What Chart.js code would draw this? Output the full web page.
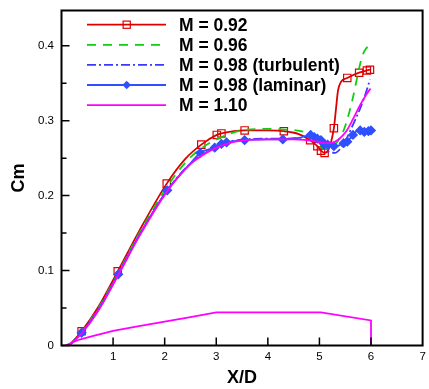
<!DOCTYPE html>
<html><head><meta charset="utf-8">
<script src="https://cdn.jsdelivr.net/npm/chart.js@4.4.1/dist/chart.umd.min.js"></script>
<style>html,body{margin:0;padding:0;background:#fff;}canvas{display:block;}</style>
</head><body>
<canvas id="c" width="429" height="389"></canvas>
<script>
// ---- data ----
const xTicks = [0, 1, 2, 3, 4, 5, 6, 7];
const yTicks = [0, 0.1, 0.2, 0.3, 0.4];
const yMinorTicks = [0.05, 0.15, 0.25, 0.35];
const seriesNames = ['M = 0.92', 'M = 0.96', 'M = 0.98 (turbulent)', 'M = 0.98 (laminar)', 'M = 1.10'];

const m092X = [0.15, 0.39, 0.7, 1.09, 1.5, 2.04, 2.4, 2.71, 3.01, 3.1, 3.55, 4.0, 4.31, 4.6, 4.82, 4.96, 5.03, 5.1, 5.18, 5.28, 5.32, 5.36, 5.42, 5.54, 5.77, 5.92, 5.98];
const m092Y = [0, 0.019, 0.05, 0.099, 0.152, 0.216, 0.249, 0.268, 0.281, 0.283, 0.287, 0.287, 0.286, 0.282, 0.274, 0.266, 0.26, 0.257, 0.262, 0.29, 0.315, 0.34, 0.352, 0.357, 0.364, 0.367, 0.368];
const m092MarkX = [0.39, 1.09, 2.04, 2.71, 3.01, 3.1, 3.55, 4.31, 4.82, 4.96, 5.03, 5.1, 5.28, 5.54, 5.77, 5.92, 5.98];
const m092MarkY = [0.019, 0.099, 0.216, 0.268, 0.281, 0.283, 0.287, 0.286, 0.274, 0.266, 0.26, 0.257, 0.29, 0.357, 0.364, 0.367, 0.368];

const m096X = [0.15, 0.39, 0.7, 1.09, 1.5, 2.04, 2.4, 2.71, 3.1, 3.5, 4.0, 4.4, 4.7, 4.85, 5.0, 5.1, 5.2, 5.35, 5.45, 5.5, 5.57, 5.63, 5.7, 5.76, 5.83, 5.9, 5.96, 6.02];
const m096Y = [0, 0.018, 0.048, 0.096, 0.149, 0.211, 0.244, 0.263, 0.278, 0.287, 0.289, 0.288, 0.285, 0.28, 0.268, 0.262, 0.263, 0.272, 0.284, 0.293, 0.309, 0.325, 0.347, 0.367, 0.386, 0.396, 0.399, 0.397];

const m098tX = [0.15, 0.39, 0.7, 1.1, 1.5, 2.05, 2.5, 2.97, 3.14, 3.55, 4.0, 4.3, 4.6, 4.83, 5.0, 5.1, 5.2, 5.3, 5.4, 5.5, 5.6, 5.7, 5.8, 5.89, 5.98];
const m098tY = [0, 0.017, 0.046, 0.095, 0.146, 0.207, 0.243, 0.264, 0.27, 0.275, 0.276, 0.276, 0.277, 0.279, 0.27, 0.262, 0.258, 0.257, 0.262, 0.272, 0.287, 0.302, 0.318, 0.335, 0.355];

const m098lX = [0.15, 0.39, 0.7, 1.1, 1.5, 2.05, 2.5, 2.69, 2.97, 3.1, 3.2, 3.55, 4.0, 4.29, 4.6, 4.83, 4.9, 4.96, 5.03, 5.1, 5.16, 5.22, 5.28, 5.38, 5.47, 5.54, 5.65, 5.72, 5.79, 5.87, 5.95, 6.0];
const m098lY = [0, 0.017, 0.046, 0.095, 0.146, 0.207, 0.243, 0.257, 0.264, 0.269, 0.271, 0.274, 0.275, 0.275, 0.277, 0.281, 0.278, 0.276, 0.274, 0.269, 0.268, 0.267, 0.266, 0.267, 0.27, 0.272, 0.281, 0.286, 0.287, 0.285, 0.286, 0.287];
const m098lMarkX = [0.39, 1.1, 2.05, 2.69, 2.97, 3.1, 3.2, 3.55, 4.29, 4.83, 4.9, 4.96, 5.03, 5.1, 5.16, 5.28, 5.47, 5.54, 5.65, 5.79, 5.87, 5.95, 6.0];
const m098lMarkY = [0.017, 0.095, 0.207, 0.257, 0.264, 0.269, 0.271, 0.274, 0.275, 0.281, 0.278, 0.276, 0.274, 0.269, 0.268, 0.266, 0.27, 0.272, 0.281, 0.287, 0.285, 0.286, 0.287];

const m110UpperX = [0.15, 0.39, 0.7, 1.1, 1.5, 2.05, 2.5, 2.97, 3.3, 3.55, 4.0, 4.5, 4.96, 5.1, 5.22, 5.35, 5.45, 5.54, 5.65, 5.79, 5.9, 5.99];
const m110UpperY = [0, 0.016, 0.045, 0.094, 0.145, 0.206, 0.242, 0.263, 0.271, 0.274, 0.275, 0.275, 0.272, 0.27, 0.27, 0.274, 0.28, 0.288, 0.302, 0.321, 0.334, 0.343];
const m110LowerX = [0.07, 0.35, 0.6, 1.0, 1.5, 2.0, 2.5, 3.0, 5.03, 6.0, 6.0];
const m110LowerY = [0, 0.008, 0.0125, 0.0195, 0.026, 0.032, 0.038, 0.0443, 0.0443, 0.0335, 0];

// ---- helpers ----
const zip = (xs, ys) => xs.map((x, i) => ({x: x, y: ys[i]}));
const RED = '#dd0000', GREEN = '#11cc11', BLUE = '#3a3aff', BLUE2 = '#3050ff', MAG = '#ff00ff';
const LW = 1.8;

const lineDs = (data, color, dash, order, mono) => ({
  data, showLine: true, borderColor: color, backgroundColor: color, borderWidth: LW,
  borderDash: dash, pointRadius: 0, pointHoverRadius: 0, order,
  cubicInterpolationMode: mono ? 'monotone' : 'default', tension: 0
});
const markDs = (data, color, style, radius, fill, order) => ({
  data, showLine: false, pointStyle: style, pointRadius: radius, pointHoverRadius: radius,
  borderColor: color, backgroundColor: fill, pointBorderWidth: 1.2, order
});

const datasets = [
  lineDs(zip(m092X, m092Y), RED, [], 10, true),
  markDs(zip(m092MarkX, m092MarkY), RED, 'rect', 5.2, 'rgba(0,0,0,0)', 9),
  lineDs(zip(m096X, m096Y), GREEN, [9, 7], 8, true),
  lineDs(zip(m098tX, m098tY), BLUE, [9, 3, 2, 3], 7, true),
  lineDs(zip(m098lX, m098lY), BLUE2, [], 6, true),
  markDs(zip(m098lMarkX, m098lMarkY), BLUE2, 'rectRot', 4.3, BLUE2, 5),
  lineDs(zip(m110UpperX, m110UpperY), MAG, [], 2, true),
  lineDs(zip(m110LowerX, m110LowerY), MAG, [], 1, false)
];

const legendRows = [
  {color: RED, dash: [], marker: 'rect', fill: null},
  {color: GREEN, dash: [9, 7], marker: null},
  {color: BLUE, dash: [9, 3, 2, 3], marker: null},
  {color: BLUE2, dash: [], marker: 'diamond', fill: BLUE2},
  {color: MAG, dash: [], marker: null}
];

const framePlugin = {
  id: 'frame',
  afterDraw(chart) {
    const {ctx, chartArea: a, scales: {x, y}} = chart;
    ctx.save();
    ctx.strokeStyle = '#000';
    ctx.lineWidth = 1.5;
    ctx.beginPath();
    yTicks.forEach(v => { const p = y.getPixelForValue(v); ctx.moveTo(a.left, p); ctx.lineTo(a.left + 8, p); });
    yMinorTicks.forEach(v => { const p = y.getPixelForValue(v); ctx.moveTo(a.left, p); ctx.lineTo(a.left + 5, p); });
    xTicks.forEach(v => { if (v > 0 && v < 7) { const p = x.getPixelForValue(v); ctx.moveTo(p, a.bottom); ctx.lineTo(p, a.bottom - 8); } });
    ctx.stroke();
    ctx.lineWidth = 2;
    ctx.strokeRect(a.left, a.top, a.right - a.left, a.bottom - a.top);

    // legend
    const lx0 = a.left + 25.5, lx1 = a.left + 104.5, mx = a.left + 65.2, tx = a.left + 117.5;
    legendRows.forEach((r, i) => {
      const yy = a.top + 14.2 + i * 20.1;
      ctx.strokeStyle = r.color; ctx.lineWidth = LW; ctx.setLineDash(r.dash);
      ctx.beginPath(); ctx.moveTo(lx0, yy); ctx.lineTo(lx1, yy); ctx.stroke();
      ctx.setLineDash([]);
      if (r.marker === 'rect') {
        ctx.lineWidth = 1.2; ctx.strokeRect(mx - 3.6, yy - 3.6, 7.2, 7.2);
      } else if (r.marker === 'diamond') {
        ctx.fillStyle = r.fill; ctx.beginPath();
        ctx.moveTo(mx, yy - 4.3); ctx.lineTo(mx + 4.3, yy); ctx.lineTo(mx, yy + 4.3); ctx.lineTo(mx - 4.3, yy); ctx.closePath(); ctx.fill();
      }
      ctx.fillStyle = '#000';
      ctx.font = "bold 17.5px 'Liberation Sans', Arial, sans-serif";
      ctx.textBaseline = 'alphabetic';
      ctx.fillText(seriesNames[i], tx, yy + 6);
    });
    ctx.restore();
  }
};

new Chart(document.getElementById('c'), {
  type: 'scatter',
  data: {datasets},
  options: {
    responsive: false, animation: false, devicePixelRatio: 1,
    layout: {padding: {top: 10.5, right: 2.3, left: 0, bottom: 0}},
    plugins: {legend: {display: false}, tooltip: {enabled: false}},
    scales: {
      x: {
        type: 'linear', min: 0, max: 7,
        afterBuildTicks: s => { s.ticks = xTicks.map(v => ({value: v})); },
        afterFit: s => { s.height = 43.5; s.paddingLeft = 0; s.paddingRight = 0; },
        grid: {display: false, drawTicks: false}, border: {display: false},
        ticks: {color: '#000', padding: 4, maxRotation: 0, autoSkip: false,
          font: {family: "'Liberation Sans', Arial, sans-serif", size: 11.5},
          callback: v => v === 0 ? '' : String(v)},
        title: {display: true, text: 'X/D', color: '#000', padding: {top: 0, bottom: 0},
          font: {family: "'Liberation Sans', Arial, sans-serif", size: 18, weight: 'bold'}}
      },
      y: {
        type: 'linear', min: 0, max: 0.447,
        afterBuildTicks: s => { s.ticks = yTicks.map(v => ({value: v})); },
        afterFit: s => { s.width = 61.5; s.paddingTop = 0; s.paddingBottom = 0; },
        grid: {display: false, drawTicks: false}, border: {display: false},
        ticks: {color: '#000', padding: 7.5,
          font: {family: "'Liberation Sans', Arial, sans-serif", size: 11.5},
          callback: v => v === 0 ? '0' : v.toFixed(1)},
        title: {display: true, text: 'Cm', color: '#000', padding: {top: 8, bottom: 0},
          font: {family: "'Liberation Sans', Arial, sans-serif", size: 18, weight: 'bold'}}
      }
    }
  },
  plugins: [framePlugin]
});
</script>
</body></html>
